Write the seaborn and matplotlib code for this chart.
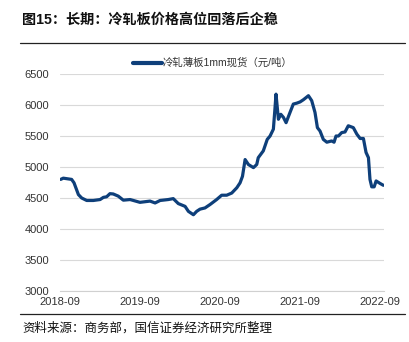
import matplotlib
matplotlib.use("Agg")
import matplotlib.pyplot as plt
import matplotlib.dates as mdates
from matplotlib.lines import Line2D
import seaborn as sns
import pandas as pd

# ---- data ----
dates = [
    "2018-09-04", "2018-09-16", "2018-10-24", "2018-11-04", "2018-11-24", "2018-12-09",
    "2019-01-01", "2019-01-31", "2019-03-03", "2019-03-18", "2019-04-02", "2019-04-17",
    "2019-05-02", "2019-05-25", "2019-06-17", "2019-07-18", "2019-09-01", "2019-10-17",
    "2019-11-09", "2019-12-02", "2020-01-08", "2020-01-31", "2020-02-23", "2020-03-25",
    "2020-04-09", "2020-05-02", "2020-05-17", "2020-06-01", "2020-06-24", "2020-07-17",
    "2020-08-16", "2020-09-08", "2020-10-01", "2020-10-24", "2020-11-16", "2020-12-01",
    "2020-12-12", "2020-12-24", "2021-01-08", "2021-01-31", "2021-02-15", "2021-02-22",
    "2021-03-17", "2021-04-04", "2021-04-17", "2021-05-02", "2021-05-09", "2021-05-14",
    "2021-05-25", "2021-06-05", "2021-06-17", "2021-06-29", "2021-07-17", "2021-08-01",
    "2021-08-17", "2021-09-01", "2021-09-16", "2021-10-09", "2021-10-24", "2021-11-08",
    "2021-11-19", "2021-12-01", "2021-12-16", "2022-01-01", "2022-01-23", "2022-02-03",
    "2022-02-12", "2022-02-23", "2022-03-10", "2022-03-25", "2022-04-09", "2022-05-02",
    "2022-05-18", "2022-06-02", "2022-06-17", "2022-06-29", "2022-07-10", "2022-07-17",
    "2022-07-25", "2022-08-05", "2022-08-14", "2022-09-01", "2022-09-16",
]
prices = [
    4800, 4820, 4800, 4745, 4555, 4500,
    4460, 4460, 4475, 4510, 4520, 4570,
    4565, 4530, 4465, 4475, 4430, 4450,
    4420, 4460, 4475, 4490, 4410, 4365,
    4285, 4230, 4285, 4320, 4340, 4395,
    4475, 4545, 4545, 4580, 4665, 4745,
    4850, 5120, 5040, 4990, 5040, 5150,
    5260, 5445, 5500, 5610, 5930, 6175,
    5770, 5850, 5800, 5715, 5880, 6015,
    6030, 6050, 6085, 6150, 6070, 5880,
    5635, 5580, 5445, 5400, 5420, 5400,
    5500, 5500, 5555, 5565, 5665, 5635,
    5530, 5460, 5460, 5235, 5150, 4800,
    4680, 4680, 4775, 4735, 4705,
]
series_name = "冷轧薄板1mm现货（元/吨）"
x_ticks = ["2018-09-01", "2019-09-01", "2020-09-01", "2021-09-01", "2022-09-01"]
x_tick_labels = ["2018-09", "2019-09", "2020-09", "2021-09", "2022-09"]
y_ticks = [3000, 3500, 4000, 4500, 5000, 5500, 6000, 6500]
title = "图15：长期：冷轧板价格高位回落后企稳"
source = "资料来源：商务部，国信证券经济研究所整理"

df = pd.DataFrame({"date": pd.to_datetime(dates), "price": prices, "series": series_name})

sns.set_theme(style="white")
plt.rcParams["font.family"] = ["Liberation Sans", "Noto Sans CJK SC", "DejaVu Sans"]

fig = plt.figure(figsize=(4.09, 3.42), dpi=100)
ax = fig.add_axes([60 / 409, 1 - 291 / 342, (384 - 60) / 409, (291 - 74) / 342])

sns.lineplot(data=df, x="date", y="price", hue="series", palette=["#0e3f7a"],
             linewidth=2.3, ax=ax)

ax.set_xlim(pd.Timestamp("2018-09-01"), pd.Timestamp("2022-09-19"))
ax.set_ylim(3000, 6500)
ax.set_yticks(y_ticks)
ax.set_yticklabels([str(v) for v in y_ticks])
ax.set_xticks(pd.to_datetime(x_ticks))
ax.set_xticklabels(x_tick_labels)
ax.set_xlabel("")
ax.set_ylabel("")

ax.yaxis.grid(True, color="#d9d9d9", linewidth=0.8)
ax.set_axisbelow(True)
for s in ["top", "right", "left"]:
    ax.spines[s].set_visible(False)
ax.spines["bottom"].set_color("#d0d0d0")
ax.spines["bottom"].set_linewidth(0.8)
ax.tick_params(axis="y", length=0, labelsize=8, labelcolor="#333333", pad=8)
ax.tick_params(axis="x", length=3, width=0.8, color="#d0d0d0", direction="in",
               labelsize=8, labelcolor="#333333", pad=4.5)

leg = ax.legend(loc="center", bbox_to_anchor=(0.52, 0.816), bbox_transform=fig.transFigure,
                frameon=False, fontsize=7.5, handlelength=2.8, handletextpad=0.1)
for line in leg.get_lines():
    line.set_linewidth(3)
for t in leg.get_texts():
    t.set_color("#333333")

fig.text(22 / 409, 1 - 20 / 342, title, fontsize=10.2, fontweight="bold",
         va="center", ha="left", color="#111111")
fig.text(22 / 409, 1 - 328 / 342, source, fontsize=9, va="center", ha="left", color="#111111")
fig.add_artist(Line2D([20 / 409, 405 / 409], [1 - 43 / 342] * 2, transform=fig.transFigure,
                      color="#222222", linewidth=0.9))
fig.add_artist(Line2D([20 / 409, 405 / 409], [1 - 314 / 342] * 2, transform=fig.transFigure,
                      color="#222222", linewidth=0.9))

fig.savefig("out.png", dpi=100)
